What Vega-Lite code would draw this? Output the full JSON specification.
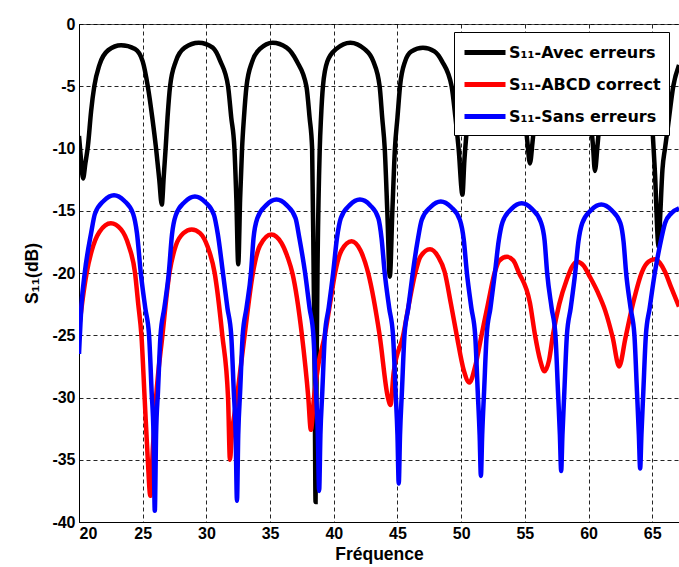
{
  "$schema": "https://vega.github.io/schema/vega-lite/v6.json",
  "width": 600,
  "height": 498,
  "autosize": {"type": "none"},
  "padding": {"left": 79, "top": 24, "right": 0, "bottom": 45},
  "background": "white",
  "config": {
    "view": {"stroke": "#555", "strokeWidth": 1},
    "axis": {
      "domainColor": "black", "domainWidth": 1,
      "grid": true, "gridColor": "black", "gridDash": [4, 3], "gridWidth": 1, "gridOpacity": 0.85,
      "ticks": false, "tickSize": 0,
      "labelFont": "Liberation Sans", "labelFontSize": 16, "labelFontWeight": "bold", "labelColor": "black",
      "titleFont": "Liberation Sans", "titleFontSize": 17.5, "titleFontWeight": "bold", "titleColor": "black"
    },
    "legend": {
      "labelFont": "DejaVu Sans", "labelFontSize": 16, "labelFontWeight": "bold", "labelColor": "black"
    }
  },
  "data": {"values": [
    {"s":"a","x":20.0,"y":-9.0},{"s":"a","x":20.15,"y":-10.8},{"s":"a","x":20.32,"y":-12.4},{"s":"a","x":20.5,"y":-11.2},{"s":"a","x":20.7,"y":-9.8},{"s":"a","x":20.95,"y":-7},{"s":"a","x":21.2,"y":-5},{"s":"a","x":21.6,"y":-3.3},{"s":"a","x":22.3,"y":-2.1},{"s":"a","x":23.3,"y":-1.7},{"s":"a","x":24.4,"y":-2.0},{"s":"a","x":25.0,"y":-3.0},{"s":"a","x":25.4,"y":-5.0},{"s":"a","x":25.75,"y":-7.5},{"s":"a","x":26.05,"y":-10},{"s":"a","x":26.3,"y":-12.5},{"s":"a","x":26.5,"y":-14.5},
    {"s":"a","x":26.65,"y":-12.3},{"s":"a","x":26.8,"y":-10},{"s":"a","x":26.95,"y":-7.5},{"s":"a","x":27.15,"y":-5},{"s":"a","x":27.6,"y":-3},{"s":"a","x":28.3,"y":-1.9},{"s":"a","x":29.4,"y":-1.5},{"s":"a","x":30.5,"y":-1.9},{"s":"a","x":31.1,"y":-3},{"s":"a","x":31.7,"y":-5},{"s":"a","x":31.95,"y":-7.5},{"s":"a","x":32.2,"y":-10},{"s":"a","x":32.35,"y":-14},{"s":"a","x":32.5,"y":-19.3},
    {"s":"a","x":32.65,"y":-14},{"s":"a","x":32.8,"y":-10},{"s":"a","x":32.95,"y":-7.5},{"s":"a","x":33.15,"y":-5},{"s":"a","x":33.6,"y":-3},{"s":"a","x":34.2,"y":-2},{"s":"a","x":35.2,"y":-1.5},{"s":"a","x":36.3,"y":-1.9},{"s":"a","x":37.1,"y":-3},{"s":"a","x":37.85,"y":-5},{"s":"a","x":38.1,"y":-7.5},{"s":"a","x":38.3,"y":-10},{"s":"a","x":38.42,"y":-20},{"s":"a","x":38.5,"y":-28},{"s":"a","x":38.57,"y":-38.4},
    {"s":"a","x":38.65,"y":-28},{"s":"a","x":38.72,"y":-20},{"s":"a","x":38.9,"y":-10},{"s":"a","x":39.0,"y":-7.5},{"s":"a","x":39.15,"y":-5},{"s":"a","x":39.5,"y":-3},{"s":"a","x":40.2,"y":-2},{"s":"a","x":41.3,"y":-1.5},{"s":"a","x":42.4,"y":-2},{"s":"a","x":43.1,"y":-3},{"s":"a","x":43.6,"y":-5},{"s":"a","x":43.8,"y":-7.5},{"s":"a","x":44.0,"y":-10},{"s":"a","x":44.2,"y":-15},{"s":"a","x":44.4,"y":-20.3},
    {"s":"a","x":44.6,"y":-15},{"s":"a","x":44.8,"y":-10},{"s":"a","x":45.0,"y":-7.5},{"s":"a","x":45.2,"y":-5},{"s":"a","x":45.6,"y":-3},{"s":"a","x":46.1,"y":-2.2},{"s":"a","x":47.0,"y":-1.9},{"s":"a","x":47.9,"y":-2.2},{"s":"a","x":48.5,"y":-3},{"s":"a","x":49.25,"y":-5},{"s":"a","x":49.55,"y":-7.5},{"s":"a","x":49.8,"y":-10},{"s":"a","x":50.1,"y":-13.7},
    {"s":"a","x":50.25,"y":-11},{"s":"a","x":50.4,"y":-9},{"s":"a","x":50.6,"y":-7},{"s":"a","x":50.9,"y":-5},{"s":"a","x":51.4,"y":-3},{"s":"a","x":52.0,"y":-2.2},{"s":"a","x":52.8,"y":-2.0},{"s":"a","x":53.6,"y":-2.2},{"s":"a","x":54.2,"y":-3},{"s":"a","x":54.7,"y":-5},{"s":"a","x":55.0,"y":-7.5},{"s":"a","x":55.2,"y":-9.5},{"s":"a","x":55.4,"y":-11.2},
    {"s":"a","x":55.6,"y":-9.5},{"s":"a","x":55.8,"y":-7.5},{"s":"a","x":56.1,"y":-5},{"s":"a","x":56.6,"y":-3},{"s":"a","x":57.2,"y":-2.3},{"s":"a","x":58.0,"y":-2.1},{"s":"a","x":58.8,"y":-2.3},{"s":"a","x":59.4,"y":-3},{"s":"a","x":59.9,"y":-5},{"s":"a","x":60.15,"y":-7.5},{"s":"a","x":60.35,"y":-9.8},{"s":"a","x":60.5,"y":-11.8},
    {"s":"a","x":60.7,"y":-9.8},{"s":"a","x":60.9,"y":-7.5},{"s":"a","x":61.2,"y":-5},{"s":"a","x":61.7,"y":-3},{"s":"a","x":62.3,"y":-2.4},{"s":"a","x":63.0,"y":-2.3},{"s":"a","x":63.7,"y":-2.5},{"s":"a","x":64.3,"y":-3.2},{"s":"a","x":64.8,"y":-5},{"s":"a","x":65.05,"y":-9},{"s":"a","x":65.2,"y":-11.7},{"s":"a","x":65.5,"y":-17.9},
    {"s":"a","x":65.62,"y":-15.5},{"s":"a","x":65.8,"y":-11.7},{"s":"a","x":66.0,"y":-10},{"s":"a","x":66.2,"y":-8.5},{"s":"a","x":66.65,"y":-5},{"s":"a","x":67.1,"y":-3.3},

    {"s":"b","x":20.0,"y":-24.5},{"s":"b","x":20.3,"y":-22},{"s":"b","x":20.6,"y":-20},{"s":"b","x":21.0,"y":-18.2},{"s":"b","x":21.6,"y":-16.7},{"s":"b","x":22.5,"y":-16.0},{"s":"b","x":23.3,"y":-16.5},{"s":"b","x":23.9,"y":-17.8},{"s":"b","x":24.4,"y":-20},{"s":"b","x":24.65,"y":-22.5},{"s":"b","x":24.9,"y":-25},{"s":"b","x":25.15,"y":-30},{"s":"b","x":25.4,"y":-35},{"s":"b","x":25.6,"y":-37.9},
    {"s":"b","x":25.8,"y":-34},{"s":"b","x":26.05,"y":-30},{"s":"b","x":26.55,"y":-25},{"s":"b","x":27.1,"y":-20},{"s":"b","x":27.6,"y":-17.8},{"s":"b","x":28.2,"y":-16.8},{"s":"b","x":28.85,"y":-16.5},{"s":"b","x":29.5,"y":-16.8},{"s":"b","x":30.1,"y":-17.9},{"s":"b","x":30.65,"y":-20},{"s":"b","x":31.25,"y":-25},{"s":"b","x":31.7,"y":-30},{"s":"b","x":31.85,"y":-35},
    {"s":"b","x":32.0,"y":-33},{"s":"b","x":32.4,"y":-30},{"s":"b","x":33.0,"y":-25},{"s":"b","x":33.65,"y":-20},{"s":"b","x":34.2,"y":-17.8},{"s":"b","x":35.1,"y":-16.9},{"s":"b","x":35.9,"y":-17.6},{"s":"b","x":36.4,"y":-18.8},{"s":"b","x":36.75,"y":-20},{"s":"b","x":37.5,"y":-25},{"s":"b","x":38.0,"y":-30},{"s":"b","x":38.2,"y":-32.6},
    {"s":"b","x":38.45,"y":-30},{"s":"b","x":38.8,"y":-27.3},{"s":"b","x":39.3,"y":-25},{"s":"b","x":39.7,"y":-22.5},{"s":"b","x":40.1,"y":-20},{"s":"b","x":40.6,"y":-18.2},{"s":"b","x":41.4,"y":-17.45},{"s":"b","x":42.1,"y":-18.2},{"s":"b","x":42.7,"y":-20},{"s":"b","x":43.6,"y":-25},{"s":"b","x":44.25,"y":-30},{"s":"b","x":44.45,"y":-30.6},
    {"s":"b","x":44.7,"y":-28},{"s":"b","x":45.45,"y":-25},{"s":"b","x":45.9,"y":-22.5},{"s":"b","x":46.4,"y":-20},{"s":"b","x":46.8,"y":-18.7},{"s":"b","x":47.55,"y":-18.1},{"s":"b","x":48.2,"y":-18.7},{"s":"b","x":48.7,"y":-19.9},{"s":"b","x":49.2,"y":-22.5},{"s":"b","x":49.65,"y":-25},{"s":"b","x":50.2,"y":-27.8},{"s":"b","x":50.65,"y":-28.8},
    {"s":"b","x":51.1,"y":-27.5},{"s":"b","x":51.6,"y":-25},{"s":"b","x":52.1,"y":-22.5},{"s":"b","x":52.65,"y":-19.9},{"s":"b","x":53.0,"y":-19.0},{"s":"b","x":53.6,"y":-18.7},{"s":"b","x":54.1,"y":-19.0},{"s":"b","x":54.5,"y":-19.9},{"s":"b","x":55.4,"y":-22.4},{"s":"b","x":55.8,"y":-25},{"s":"b","x":56.2,"y":-27},{"s":"b","x":56.55,"y":-27.9},
    {"s":"b","x":56.9,"y":-27},{"s":"b","x":57.2,"y":-25},{"s":"b","x":57.7,"y":-22.5},{"s":"b","x":58.3,"y":-20.5},{"s":"b","x":58.7,"y":-19.5},{"s":"b","x":59.1,"y":-19.1},{"s":"b","x":59.6,"y":-19.4},{"s":"b","x":60.1,"y":-20.3},{"s":"b","x":60.7,"y":-21.5},{"s":"b","x":61.3,"y":-23},{"s":"b","x":61.9,"y":-25.2},{"s":"b","x":62.4,"y":-27.5},
    {"s":"b","x":62.9,"y":-25.2},{"s":"b","x":63.5,"y":-22.4},{"s":"b","x":64.2,"y":-19.9},{"s":"b","x":64.7,"y":-19.1},{"s":"b","x":65.2,"y":-18.9},{"s":"b","x":65.6,"y":-19.2},{"s":"b","x":66.0,"y":-19.9},{"s":"b","x":66.5,"y":-21.2},{"s":"b","x":67.1,"y":-22.7},

    {"s":"c","x":20.0,"y":-26.5},{"s":"c","x":20.2,"y":-22.5},{"s":"c","x":20.45,"y":-20},{"s":"c","x":20.95,"y":-16.8},{"s":"c","x":21.25,"y":-15.25},{"s":"c","x":21.95,"y":-14.2},{"s":"c","x":22.75,"y":-13.75},{"s":"c","x":23.55,"y":-14.2},{"s":"c","x":24.25,"y":-15.25},{"s":"c","x":24.55,"y":-16.8},{"s":"c","x":24.85,"y":-20},{"s":"c","x":25.2,"y":-22.8},{"s":"c","x":25.5,"y":-25},{"s":"c","x":25.7,"y":-29.5},{"s":"c","x":25.85,"y":-33},{"s":"c","x":25.95,"y":-39.1},
    {"s":"c","x":26.05,"y":-33},{"s":"c","x":26.2,"y":-29.5},{"s":"c","x":26.4,"y":-25},{"s":"c","x":26.7,"y":-22.8},{"s":"c","x":27.05,"y":-20},{"s":"c","x":27.3,"y":-16.9},{"s":"c","x":27.6,"y":-15.35},{"s":"c","x":28.3,"y":-14.3},{"s":"c","x":29.1,"y":-13.85},{"s":"c","x":29.9,"y":-14.3},{"s":"c","x":30.6,"y":-15.35},{"s":"c","x":30.9,"y":-16.9},{"s":"c","x":31.3,"y":-20},{"s":"c","x":31.65,"y":-22.8},{"s":"c","x":31.95,"y":-25},{"s":"c","x":32.15,"y":-29.5},{"s":"c","x":32.3,"y":-33},{"s":"c","x":32.4,"y":-38.3},
    {"s":"c","x":32.5,"y":-33},{"s":"c","x":32.65,"y":-29.5},{"s":"c","x":32.85,"y":-25},{"s":"c","x":33.15,"y":-22.8},{"s":"c","x":33.5,"y":-20},{"s":"c","x":33.7,"y":-17.2},{"s":"c","x":34.0,"y":-15.6},{"s":"c","x":34.7,"y":-14.55},{"s":"c","x":35.5,"y":-14.1},{"s":"c","x":36.3,"y":-14.55},{"s":"c","x":37.0,"y":-15.6},{"s":"c","x":37.3,"y":-17.2},{"s":"c","x":37.75,"y":-20},{"s":"c","x":38.1,"y":-22.8},{"s":"c","x":38.4,"y":-25},{"s":"c","x":38.6,"y":-29.5},{"s":"c","x":38.75,"y":-33},{"s":"c","x":38.85,"y":-37.5},
    {"s":"c","x":38.95,"y":-33},{"s":"c","x":39.1,"y":-29.5},{"s":"c","x":39.3,"y":-25},{"s":"c","x":39.6,"y":-22.8},{"s":"c","x":39.95,"y":-20},{"s":"c","x":40.25,"y":-17.2},{"s":"c","x":40.55,"y":-15.6},{"s":"c","x":41.25,"y":-14.55},{"s":"c","x":42.05,"y":-14.1},{"s":"c","x":42.85,"y":-14.55},{"s":"c","x":43.5,"y":-15.6},{"s":"c","x":43.75,"y":-17.2},{"s":"c","x":44.0,"y":-20},{"s":"c","x":44.35,"y":-22.8},{"s":"c","x":44.65,"y":-25},{"s":"c","x":44.85,"y":-29.5},{"s":"c","x":45.0,"y":-33},{"s":"c","x":45.1,"y":-36.9},
    {"s":"c","x":45.2,"y":-33},{"s":"c","x":45.35,"y":-29.5},{"s":"c","x":45.55,"y":-25},{"s":"c","x":45.85,"y":-22.8},{"s":"c","x":46.2,"y":-20},{"s":"c","x":46.6,"y":-17.3},{"s":"c","x":46.9,"y":-15.75},{"s":"c","x":47.6,"y":-14.7},{"s":"c","x":48.4,"y":-14.25},{"s":"c","x":49.2,"y":-14.7},{"s":"c","x":49.9,"y":-15.75},{"s":"c","x":50.2,"y":-17.3},{"s":"c","x":50.45,"y":-20},{"s":"c","x":50.8,"y":-22.8},{"s":"c","x":51.1,"y":-25},{"s":"c","x":51.3,"y":-29.5},{"s":"c","x":51.45,"y":-33},{"s":"c","x":51.55,"y":-36.3},
    {"s":"c","x":51.65,"y":-33},{"s":"c","x":51.8,"y":-29.5},{"s":"c","x":52.0,"y":-25},{"s":"c","x":52.3,"y":-22.8},{"s":"c","x":52.65,"y":-20},{"s":"c","x":52.95,"y":-17.4},{"s":"c","x":53.25,"y":-15.9},{"s":"c","x":53.95,"y":-14.85},{"s":"c","x":54.75,"y":-14.4},{"s":"c","x":55.55,"y":-14.85},{"s":"c","x":56.25,"y":-15.9},{"s":"c","x":56.55,"y":-17.4},{"s":"c","x":56.75,"y":-20},{"s":"c","x":57.1,"y":-22.8},{"s":"c","x":57.4,"y":-25},{"s":"c","x":57.6,"y":-29.5},{"s":"c","x":57.75,"y":-33},{"s":"c","x":57.85,"y":-35.9},
    {"s":"c","x":57.95,"y":-33},{"s":"c","x":58.1,"y":-29.5},{"s":"c","x":58.3,"y":-25},{"s":"c","x":58.6,"y":-22.8},{"s":"c","x":58.95,"y":-20},{"s":"c","x":59.2,"y":-17.5},{"s":"c","x":59.5,"y":-16.0},{"s":"c","x":60.2,"y":-14.95},{"s":"c","x":61.0,"y":-14.5},{"s":"c","x":61.8,"y":-14.95},{"s":"c","x":62.5,"y":-16.0},{"s":"c","x":62.75,"y":-17.5},{"s":"c","x":62.95,"y":-20},{"s":"c","x":63.3,"y":-22.8},{"s":"c","x":63.6,"y":-25},{"s":"c","x":63.8,"y":-29.5},{"s":"c","x":63.95,"y":-33},{"s":"c","x":64.05,"y":-35.7},
    {"s":"c","x":64.15,"y":-33},{"s":"c","x":64.3,"y":-29.5},{"s":"c","x":64.5,"y":-25},{"s":"c","x":64.8,"y":-22.8},{"s":"c","x":65.2,"y":-20},{"s":"c","x":65.6,"y":-17.8},{"s":"c","x":66.0,"y":-16},{"s":"c","x":66.5,"y":-15.2},{"s":"c","x":67.1,"y":-14.8}
  ]},
  "encoding": {
    "x": {"field": "x", "type": "quantitative", "scale": {"domain": [20, 67.1], "nice": false, "zero": false},
          "axis": {"values": [20,25,30,35,40,45,50,55,60,65], "labelPadding": 3, "title": "Fréquence", "titlePadding": 4}},
    "y": {"field": "y", "type": "quantitative", "scale": {"domain": [-40, 0], "nice": false, "zero": false},
          "axis": {"values": [-40,-35,-30,-25,-20,-15,-10,-5,0], "labelExpr": "'' + datum.value", "labelPadding": 4, "title": "S₁₁(dB)", "titlePadding": 10}},
    "color": {"field": "s", "type": "nominal",
              "scale": {"domain": ["a","b","c"], "range": ["#000000","#ff0000","#0000ff"]},
              "legend": {"orient": "none", "legendX": 375, "legendY": 8, "title": null,
                         "symbolType": "M-1,0H3.1", "symbolStrokeWidth": 5, "symbolSize": 400,
                         "strokeColor": "black", "fillColor": "white", "padding": 8,
                         "rowPadding": 9, "labelOffset": 22, "labelLimit": 300,
                         "labelExpr": "datum.value == 'a' ? 'S₁₁-Avec erreurs' : datum.value == 'b' ? 'S₁₁-ABCD correct' : 'S₁₁-Sans erreurs'"}}
  },
  "layer": [
    {"transform": [{"filter": "datum.s == 'a'"}], "mark": {"type": "line", "strokeWidth": 4.5, "interpolate": "monotone", "clip": true}},
    {"transform": [{"filter": "datum.s == 'b'"}], "mark": {"type": "line", "strokeWidth": 4.5, "interpolate": "monotone", "clip": true}},
    {"transform": [{"filter": "datum.s == 'c'"}], "mark": {"type": "line", "strokeWidth": 4.5, "interpolate": "monotone", "clip": true}}
  ]
}
